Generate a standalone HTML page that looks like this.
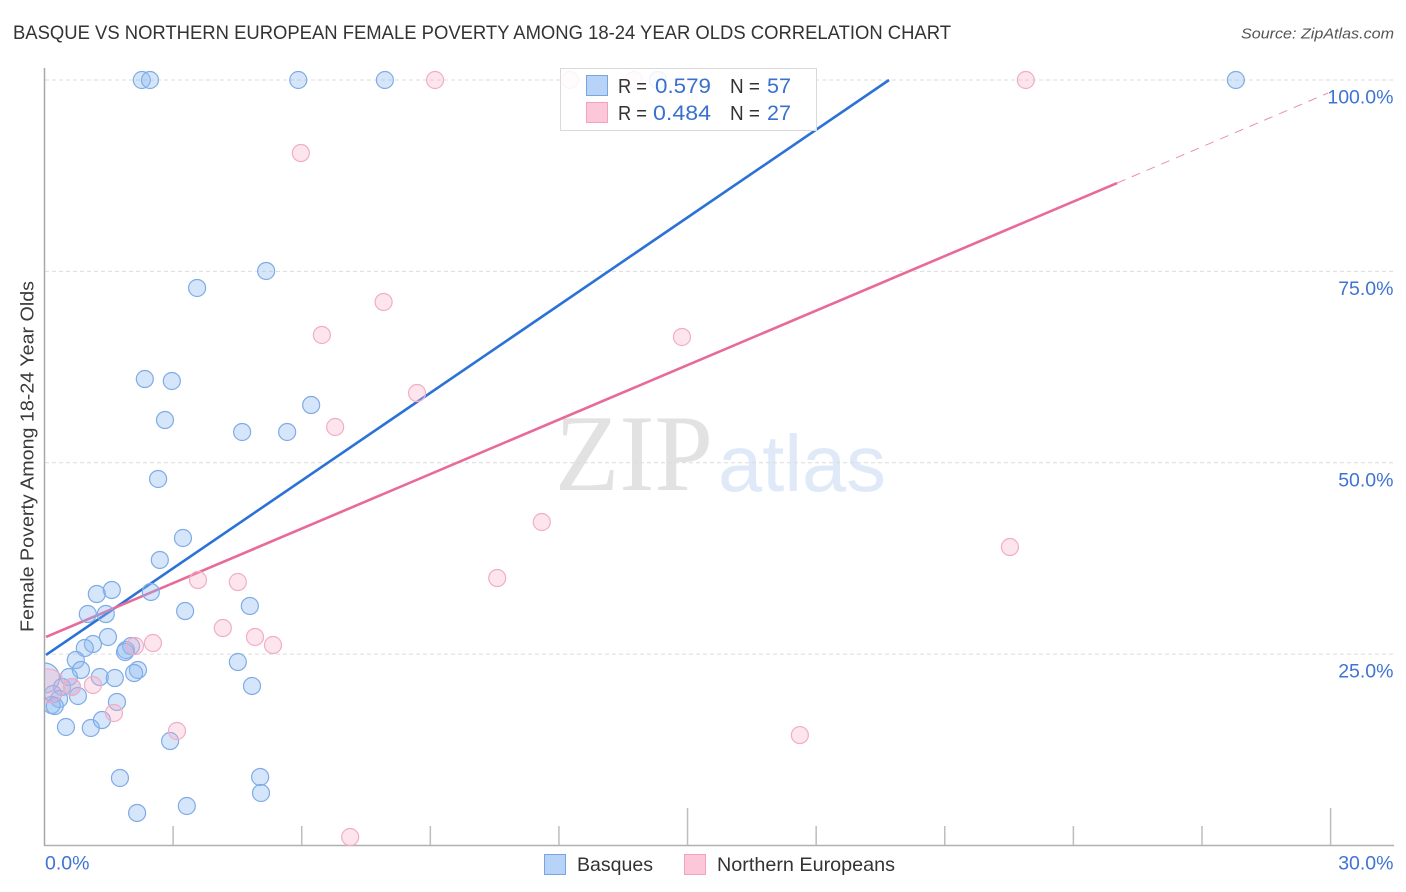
<!DOCTYPE html>
<html lang="en">
<head>
<meta charset="utf-8">
<title>Basque vs Northern European Female Poverty Correlation Chart</title>
<style>
html,body{margin:0;padding:0;background:#fff;width:1406px;height:892px;overflow:hidden}
svg{display:block}
text{font-family:"Liberation Sans",sans-serif}
</style>
</head>
<body>
<svg id="chart" width="1406" height="892" viewBox="0 0 1406 892" xmlns="http://www.w3.org/2000/svg">
  <rect x="0" y="0" width="1406" height="892" fill="#ffffff"/>
  <text x="13" y="39" font-size="19.5" fill="#333" textLength="938" lengthAdjust="spacingAndGlyphs">BASQUE VS NORTHERN EUROPEAN FEMALE POVERTY AMONG 18-24 YEAR OLDS CORRELATION CHART</text>
  <text x="1241" y="38.5" font-size="15" font-style="italic" fill="#555" textLength="153" lengthAdjust="spacingAndGlyphs">Source: ZipAtlas.com</text>

  <g>
    <text x="555" y="490" font-size="109" fill="#e2e2e2" textLength="158" lengthAdjust="spacingAndGlyphs" style="font-family:'Liberation Serif',serif">ZIP</text>
    <text x="718" y="491" font-size="80" fill="#dfe9f8" textLength="168" lengthAdjust="spacingAndGlyphs">atlas</text>
  </g>

  <g id="grid"></g>
  <g id="axes"></g>
  <text transform="translate(33.5,632) rotate(-90)" font-size="18.5" fill="#3a3a3a" textLength="351" lengthAdjust="spacingAndGlyphs">Female Poverty Among 18-24 Year Olds</text>
  <g id="trends"></g>
  <g id="points" clip-path="url(#plot-clip)"></g>
  <defs>
    <clipPath id="plot-clip"><rect x="45" y="60" width="1349" height="786"/></clipPath>
  </defs>

  <g>
    <rect x="560.5" y="68.5" width="256" height="62" fill="#ffffff" fill-opacity="0.87" stroke="#d9d9d9" stroke-width="1"/>
    <rect x="586.5" y="75.5" width="21" height="20" fill="#b7d3f7" stroke="#7aa6e0" stroke-width="1"/>
    <rect x="586.5" y="102.5" width="21" height="20" fill="#fcc8d9" stroke="#f2a3bc" stroke-width="1"/>
    <text x="618" y="93" font-size="20" fill="#333" textLength="29" lengthAdjust="spacingAndGlyphs">R =</text>
    <text x="655" y="93" font-size="21" fill="#3a70d0" textLength="56" lengthAdjust="spacingAndGlyphs">0.579</text>
    <text x="730" y="93" font-size="20" fill="#333" textLength="30" lengthAdjust="spacingAndGlyphs">N =</text>
    <text x="767" y="93" font-size="21" fill="#3a70d0" textLength="24" lengthAdjust="spacingAndGlyphs">57</text>
    <text x="618" y="120" font-size="20" fill="#333" textLength="29" lengthAdjust="spacingAndGlyphs">R =</text>
    <text x="653" y="120" font-size="21" fill="#3a70d0" textLength="58" lengthAdjust="spacingAndGlyphs">0.484</text>
    <text x="730" y="120" font-size="20" fill="#333" textLength="30" lengthAdjust="spacingAndGlyphs">N =</text>
    <text x="767" y="120" font-size="21" fill="#3a70d0" textLength="24" lengthAdjust="spacingAndGlyphs">27</text>
  </g>

  <g>
    <rect x="544.5" y="854.5" width="21" height="20" fill="#b7d3f7" stroke="#7aa6e0" stroke-width="1"/>
    <text x="577" y="871" font-size="19.5" fill="#333" textLength="76" lengthAdjust="spacingAndGlyphs">Basques</text>
    <rect x="684.5" y="854.5" width="21" height="20" fill="#fcc8d9" stroke="#f2a3bc" stroke-width="1"/>
    <text x="717" y="871" font-size="19.5" fill="#333" textLength="178" lengthAdjust="spacingAndGlyphs">Northern Europeans</text>
  </g>
</svg>
<script>
// ---- chart data (percent values) ----
const xTickValues = [0, 3, 6, 9, 12, 15, 18, 21, 24, 27, 30];
const xTickLabels = ['0.0%', '30.0%'];
const yTickValues = [100, 75, 50, 25];
const yTickLabels = ['100.0%', '75.0%', '50.0%', '25.0%'];

// the first point of each series is the larger bubble at the axis
const basqueX = [0.0, 2.27, 2.46, 5.92, 7.94, 14.31, 27.79, 5.17, 3.56, 2.34, 2.97, 2.81, 4.61, 5.66, 6.22, 2.65, 3.23, 2.69, 1.57, 1.22, 2.48, 1.01, 1.43, 3.28, 4.79, 1.48, 1.13, 0.94, 2.02, 1.90, 1.88, 0.73, 0.85, 2.18, 2.09, 4.51, 0.57, 1.29, 1.64, 4.84, 0.41, 0.64, 0.78, 0.20, 0.34, 0.17, 1.69, 0.24, 0.50, 1.08, 1.34, 2.93, 1.76, 5.03, 5.05, 3.32, 2.16];
const basqueY = [21.88, 100, 100, 100, 100, 100, 100, 75.05, 72.83, 60.94, 60.68, 55.58, 54.02, 54.02, 57.54, 47.88, 40.17, 37.30, 33.38, 32.85, 33.12, 30.24, 30.24, 30.63, 31.29, 27.24, 26.32, 25.80, 26.06, 25.54, 25.28, 24.23, 22.93, 22.93, 22.53, 23.97, 22.01, 22.01, 21.88, 20.84, 20.71, 20.71, 19.53, 19.79, 19.14, 18.35, 18.75, 18.22, 15.48, 15.35, 16.39, 13.65, 8.82, 8.95, 6.86, 5.16, 4.25];
const northernX = [0.08, 12.26, 9.11, 13.75, 22.89, 5.98, 7.91, 6.47, 14.87, 8.69, 6.78, 11.60, 22.52, 10.56, 3.58, 4.51, 4.16, 4.91, 5.33, 2.53, 2.11, 1.13, 0.64, 1.62, 3.09, 17.62, 7.13];
const northernY = [20.84, 100, 100, 100, 100, 90.46, 71.00, 66.69, 66.43, 59.11, 54.67, 42.26, 38.99, 34.94, 34.68, 34.42, 28.41, 27.24, 26.19, 26.45, 26.06, 20.97, 20.71, 17.31, 14.96, 14.43, 1.11];

const basqueTrendX = [0.035, 19.70];
const basqueTrendY = [24.89, 100];
const northernTrendX = [0.035, 25.02];
const northernTrendY = [27.24, 86.54];
const northernDashX = [25.02, 29.94];
const northernDashY = [86.54, 98.3];

// ---- axis functions ----
const xScale = v => 44.5 + v * 42.87;
const yScale = v => 845.5 - v * 7.655;
const NS = 'http://www.w3.org/2000/svg';
function make(tag, attrs, parent) {
  const el = document.createElementNS(NS, tag);
  for (const k in attrs) el.setAttribute(k, attrs[k]);
  parent.appendChild(el);
  return el;
}
const grid = document.getElementById('grid');
const axes = document.getElementById('axes');
const trends = document.getElementById('trends');
const points = document.getElementById('points');

// gridlines and y tick labels
yTickValues.forEach((v, i) => {
  const line = make('line', {x1: 45, x2: 1393, y1: yScale(v), y2: yScale(v), stroke: '#dcdcdc', 'stroke-width': 1, 'stroke-dasharray': '4 3'}, grid);
  
  
  const t = make('text', {x: 1393.5, y: yScale(v) + 23.5, 'text-anchor': 'end', 'font-size': 19.5, fill: '#3f74d2'}, axes);
  t.textContent = yTickLabels[i];
  
  
});

// axis lines
const yAxis = make('line', {x1: 44.5, x2: 44.5, y1: 68, y2: 846, stroke: '#a8a8a8', 'stroke-width': 1.5}, axes);


const xAxis = make('line', {x1: 44, x2: 1394, y1: 845.5, y2: 845.5, stroke: '#b0b0b0', 'stroke-width': 1.5}, axes);



// x ticks: every 15% gets a taller mark
xTickValues.forEach(v => {
  if (v === 0) return;
  const tall = v % 15 === 0;
  const tick = make('line', {x1: xScale(v), x2: xScale(v), y1: tall ? 808 : 826, y2: 845, stroke: '#bdbdbd', 'stroke-width': 1.5}, axes);
  
  
});
const xMin = make('text', {x: 45, y: 869.5, 'font-size': 19.5, fill: '#3f74d2'}, axes);
xMin.textContent = xTickLabels[0];


const xMax = make('text', {x: 1393.5, y: 869.5, 'text-anchor': 'end', 'font-size': 19.5, fill: '#3f74d2'}, axes);
xMax.textContent = xTickLabels[1];



// trend lines
const blueTrend = make('line', {x1: xScale(basqueTrendX[0]), y1: yScale(basqueTrendY[0]), x2: xScale(basqueTrendX[1]), y2: yScale(basqueTrendY[1]), stroke: '#2a72d6', 'stroke-width': 2.6}, trends);


const pinkTrend = make('line', {x1: xScale(northernTrendX[0]), y1: yScale(northernTrendY[0]), x2: xScale(northernTrendX[1]), y2: yScale(northernTrendY[1]), stroke: '#e86a9a', 'stroke-width': 2.6}, trends);


const pinkDash = make('line', {x1: xScale(northernDashX[0]), y1: yScale(northernDashY[0]), x2: xScale(northernDashX[1]), y2: yScale(northernDashY[1]), stroke: '#eb8fb0', 'stroke-width': 1, 'stroke-dasharray': '9 7'}, trends);



// scatter points
basqueX.forEach((x, i) => {
  const c = make('circle', {cx: xScale(x), cy: yScale(basqueY[i]), r: i === 0 ? 15 : 8.5, fill: 'rgba(140,185,240,0.36)', stroke: '#7fabe6', 'stroke-width': 1.2}, points);
  
  
});
northernX.forEach((x, i) => {
  const c = make('circle', {cx: xScale(x), cy: yScale(northernY[i]), r: i === 0 ? 17 : 8.5, fill: 'rgba(248,175,198,0.32)', stroke: '#f3adc3', 'stroke-width': 1.2}, points);
  
  
});
</script>
</body>
</html>
